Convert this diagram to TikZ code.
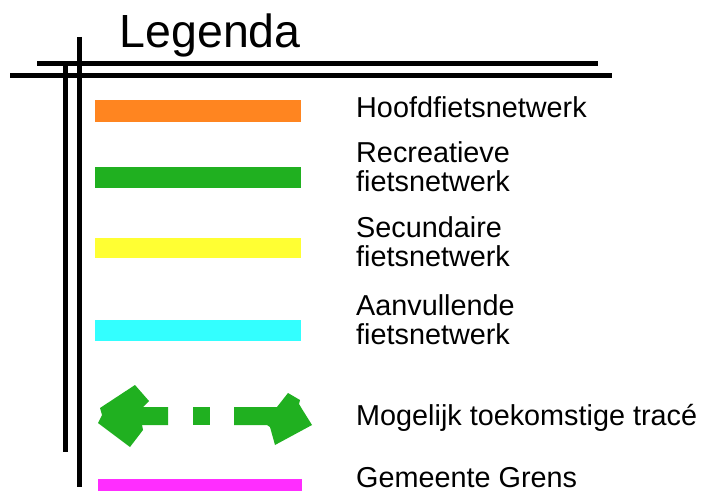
\documentclass[tikz,border=0pt]{standalone}
\usepackage{fontspec}
\setmainfont{Liberation Sans}
\definecolor{cOrange}{RGB}{255,133,32}
\definecolor{cGreen}{RGB}{32,176,32}
\definecolor{cYellow}{RGB}{255,255,51}
\definecolor{cCyan}{RGB}{51,255,255}
\definecolor{cMagenta}{RGB}{255,45,255}
\begin{document}
\begin{tikzpicture}[x=1pt,y=-1pt,
  rule/.style={line width=5pt, black},
  lab/.style={anchor=north west, inner sep=0pt, align=left,
    font=\fontsize{28.8}{29.5}\selectfont},
  arrowpart/.style={fill=cGreen, draw=none}]
\useasboundingbox[fill=white] (0,0) rectangle (706,497);

% title
\node[anchor=base west, inner sep=0pt, font=\fontsize{46.5}{50}\selectfont] (title) at (119.5,48) {Legenda};

% frame lines
\coordinate (h1a) at (37,64);  \coordinate (h1b) at (598,64);
\coordinate (h2a) at (10,76);  \coordinate (h2b) at (612,76);
\coordinate (v1a) at (79,37);  \coordinate (v1b) at (79,487);
\coordinate (v2a) at (65,62);  \coordinate (v2b) at (65,452);
\draw[rule] (h1a) -- (h1b);
\draw[rule] (h2a) -- (h2b);
\draw[rule] (v1a) -- (v1b);
\draw[rule] (v2a) -- (v2b);

% colour bars
\fill[cOrange]  (95,100) rectangle (301,122);
\fill[cGreen]   (95,167) rectangle (301,188);
\fill[cYellow]  (95,238) rectangle (301,258);
\fill[cCyan]    (95,320) rectangle (301,341);
\fill[cMagenta] (98,479) rectangle (302,491);

% dashed double arrow
\fill[arrowpart] (135,385) -- (149,401) -- (143,407) -- (168,407) -- (168,425)
  -- (142,425) -- (143,430) -- (130,447) -- (98,423) -- (102,415) -- (100,408) -- cycle;
\fill[arrowpart] (193,407) rectangle (210,425);
\fill[arrowpart] (234,407) -- (277,407) -- (288,393) -- (300,400) -- (299,404)
  -- (302,409) -- (312,425) -- (275,445) -- (270,427) -- (267,425) -- (234,425) -- cycle;

% labels
\node[lab] (l1) at (356,96.2)  {Hoofdfietsnetwerk};
\node[lab] (l2) at (356,141.2) {Recreatieve\\fietsnetwerk};
\node[lab] (l3) at (356,216.2) {Secundaire\\fietsnetwerk};
\node[lab] (l4) at (356,294.2) {Aanvullende\\fietsnetwerk};
\node[lab] (l5) at (356,404.2) {Mogelijk toekomstige tracé};
\node[lab] (l6) at (356,467.2) {Gemeente Grens};
\end{tikzpicture}
\end{document}
